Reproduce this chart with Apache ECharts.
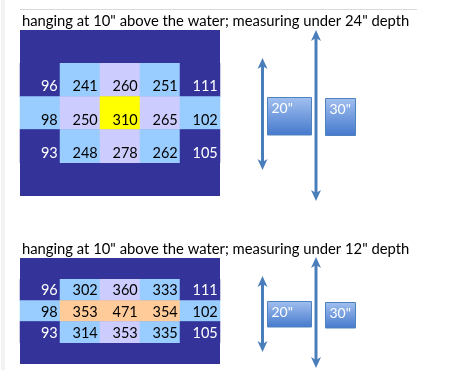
<!DOCTYPE html>
<html>
<head>
<meta charset="utf-8">
<script src="https://cdn.jsdelivr.net/npm/echarts@6/dist/echarts.min.js"></script>
<style>html,body{margin:0;padding:0;background:#fff;}#c{width:471px;height:370px;}</style>
</head>
<body>
<div id="c"></div>
<script>
// ---- data ----
const columns = ['c1', 'c2', 'c3', 'c4', 'c5'];
const rows = ['edgeTop', 'row1', 'row2', 'row3', 'edgeBottom'];
const title24 = 'hanging at 10" above the water; measuring under 24" depth';
const title12 = 'hanging at 10" above the water; measuring under 12" depth';
const values24 = [
  [96, 241, 260, 251, 111],
  [98, 250, 310, 265, 102],
  [93, 248, 278, 262, 105]
];
const values12 = [
  [96, 302, 360, 333, 111],
  [98, 353, 471, 354, 102],
  [93, 314, 353, 335, 105]
];
// cell shading classes (n = navy, b = light blue, l = lavender, y = yellow, p = peach)
const shade24 = [
  ['n', 'b', 'l', 'b', 'n'],
  ['b', 'l', 'y', 'l', 'b'],
  ['n', 'b', 'l', 'b', 'n']
];
const shade12 = [
  ['n', 'b', 'l', 'b', 'n'],
  ['b', 'p', 'p', 'p', 'b'],
  ['n', 'b', 'l', 'b', 'n']
];
const boxLabels = ['20"', '30"'];

// ---- styles ----
const FONT = 'Lato';
const shadeColor = { n: '#333399', b: '#99CCFF', l: '#CCCCFF', y: '#FFFF00', p: '#FFCC99' };
const NAVY = '#333399';
const ARROW = '#4A7EBB';

function buildData(values, shades) {
  const out = [];
  values.forEach((row, r) => {
    row.forEach((v, c) => {
      const s = shades[r][c];
      out.push({
        value: [c, r + 1, v],
        itemStyle: { color: shadeColor[s] },
        label: { color: s === 'n' ? '#ffffff' : '#000000' }
      });
    });
  });
  return out;
}

function heat(idx, values, shades) {
  return {
    type: 'heatmap',
    xAxisIndex: idx, yAxisIndex: idx,
    data: buildData(values, shades),
    emphasis: { disabled: true },
    label: {
      show: true,
      position: 'insideBottomRight',
      distance: 2.5,
      fontFamily: FONT,
      fontSize: 14.5,
      formatter: p => String(p.value[2])
    }
  };
}

// decorative diagram: double arrows and labelled boxes
function arrow(x, y1, y2) {
  const hw = 5, hl = 11;
  return [
    { type: 'line', shape: { x1: x, y1: y1 + 6, x2: x, y2: y2 - 6 }, style: { stroke: ARROW, lineWidth: 3 } },
    { type: 'polygon', shape: { points: [[x, y1], [x - hw, y1 + hl], [x, y1 + hl - 3], [x + hw, y1 + hl]] }, style: { fill: ARROW } },
    { type: 'polygon', shape: { points: [[x, y2], [x - hw, y2 - hl], [x, y2 - hl + 3], [x + hw, y2 - hl]] }, style: { fill: ARROW } }
  ];
}
function box(x, y, w, h, text) {
  return [
    { type: 'rect', shape: { x: x, y: y, width: w, height: h },
      style: { fill: new echarts.graphic.LinearGradient(0, 0, 0, 1, [
        { offset: 0, color: '#A3C0F0' }, { offset: 1, color: '#4479CC' }]),
        stroke: '#4F81BD', lineWidth: 1 } },
    { type: 'text', x: x + 4, y: y + 11, style: { text: text, fill: '#ffffff', font: '14px ' + FONT, textVerticalAlign: 'middle' } }
  ];
}

const graphics = [
  { type: 'rect', shape: { x: 1, y: 0, width: 4, height: 370 }, style: { fill: '#F3F3F3' } },
  { type: 'line', shape: { x1: 20, y1: 9.5, x2: 417, y2: 9.5 }, style: { stroke: '#D9D9D9', lineWidth: 1 } },
  { type: 'text', x: 22, y: 21, style: { text: title24, fill: '#000', font: '14.8px ' + FONT, textVerticalAlign: 'middle' } },
  { type: 'text', x: 22, y: 249, style: { text: title12, fill: '#000', font: '14.8px ' + FONT, textVerticalAlign: 'middle' } }
]
  .concat(arrow(262.5, 58, 170), arrow(316, 30, 201), arrow(262.5, 276, 352), arrow(316, 257, 368))
  .concat(box(267.5, 97.5, 44, 37.5, boxLabels[0]), box(325.5, 98.5, 30, 37, boxLabels[1]))
  .concat(box(267.5, 301.5, 44, 25.5, boxLabels[0]), box(325.5, 302.5, 30, 25.5, boxLabels[1]));

function xAx(i) { return { type: 'category', gridIndex: i, data: columns, show: false }; }
function yAx(i) { return { type: 'category', gridIndex: i, data: rows, inverse: true, show: false }; }

const chart = echarts.init(document.getElementById('c'), null, { renderer: 'canvas' });
chart.setOption({
  animation: false,
  backgroundColor: '#ffffff',
  grid: [
    { left: 20, top: 30, width: 200, height: 166, show: true, backgroundColor: NAVY, borderWidth: 0 },
    { left: 20, top: 258, width: 200, height: 106, show: true, backgroundColor: NAVY, borderWidth: 0 }
  ],
  xAxis: [xAx(0), xAx(1)],
  yAxis: [yAx(0), yAx(1)],
  series: [heat(0, values24, shade24), heat(1, values12, shade12)],
  graphic: graphics
});
</script>
</body>
</html>
